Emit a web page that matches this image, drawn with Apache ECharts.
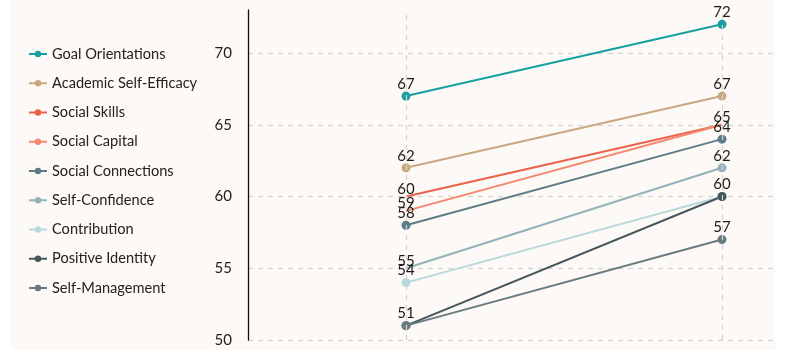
<!DOCTYPE html>
<html>
<head>
<meta charset="utf-8">
<script src="https://cdn.jsdelivr.net/npm/echarts@6/dist/echarts.min.js"></script>
<style>
html,body{margin:0;padding:0;background:#ffffff;width:786px;height:357px;overflow:hidden;}
#wrap{position:absolute;left:11px;top:0;width:764px;height:350px;background:#fdf9f6;overflow:hidden;}
#chart{position:absolute;left:0;top:0;width:869px;height:350px;}
</style>
</head>
<body>
<div id="wrap"><div id="chart"></div></div>
<script>
const categories = ['Before', 'After'];
const seriesNames = ['Goal Orientations','Academic Self-Efficacy','Social Skills','Social Capital','Social Connections','Self-Confidence','Contribution','Positive Identity','Self-Management'];
const goalOrientations = [67, 72];
const academicSelfEfficacy = [62, 67];
const socialSkills = [60, 65];
const socialCapital = [59, 65];
const socialConnections = [58, 64];
const selfConfidence = [55, 62];
const contribution = [54, 60];
const positiveIdentity = [51, 60];
const selfManagement = [51, 57];
const yTicks = [50, 55, 60, 65, 70];

const values = [goalOrientations, academicSelfEfficacy, socialSkills, socialCapital, socialConnections, selfConfidence, contribution, positiveIdentity, selfManagement];
const colors = ['#17a0a0','#c8a880','#e8634a','#f4896f','#5d7e86','#92b3b9','#b9d9dd','#45565d','#6a7c81'];
// points that show no marker in the reference
const hiddenMarkers = {2:[0,1], 3:[0,1], 5:[0]};
// labels that coincide exactly with another series' label (drawn once)
const hiddenLabels = {3:[1], 6:[1], 8:[0]};

const chart = echarts.init(document.getElementById('chart'));
const FONT = 'Lato, "Noto Sans", sans-serif';

const series = seriesNames.map((name, i) => ({
  name: name,
  type: 'line',
  data: values[i].map((v, j) => {
    const item = {value: v};
    if (hiddenMarkers[i] && hiddenMarkers[i].includes(j)) item.symbolSize = 0;
    if (hiddenLabels[i] && hiddenLabels[i].includes(j)) item.label = {show: false};
    return item;
  }),
  color: colors[i],
  symbol: 'circle',
  symbolSize: 9,
  lineStyle: {width: 2},
  label: {show: true, position: 'top', distance: 0, color: '#1a1a1a', fontSize: 15, fontFamily: FONT},
  emphasis: {disabled: true},
  markLine: i === 0 ? {
    silent: true, symbol: 'none', label: {show: false},
    lineStyle: {type: [5, 5], color: '#d6d2cf', width: 1.2},
    data: categories.map(c => ({xAxis: c}))
  } : undefined,
  animation: false
}));

chart.setOption({
  backgroundColor: 'transparent',
  animation: false,
  grid: {left: 237, top: 10, right: 0, bottom: 10, containLabel: false},
  legend: {
    orient: 'vertical', left: 17, top: 46.5, padding: 0,
    itemWidth: 18, itemHeight: 8, itemGap: 14.25,
    textStyle: {fontSize: 14.6, color: '#222', fontFamily: FONT},
    data: seriesNames
  },
  xAxis: {
    type: 'category', data: categories, boundaryGap: true,
    axisLine: {show: false}, axisTick: {show: false}, axisLabel: {show: false},
    splitLine: {show: false}
  },
  yAxis: {
    type: 'value', min: 50, max: 73, interval: 5,
    axisLine: {show: true, lineStyle: {color: '#111', width: 1.3}},
    axisTick: {show: false},
    axisLabel: {color: '#222', fontSize: 15, fontFamily: FONT, margin: 16, showMaxLabel: false,
      formatter: v => yTicks.includes(v) ? String(v) : ''},
    splitLine: {show: true, lineStyle: {type: [5, 5], width: 1.2,
      color: ['#d6d2cf','#d6d2cf','#d6d2cf','#d6d2cf','#d6d2cf','rgba(0,0,0,0)']}}
  },
  series: series
});
</script>
</body>
</html>
